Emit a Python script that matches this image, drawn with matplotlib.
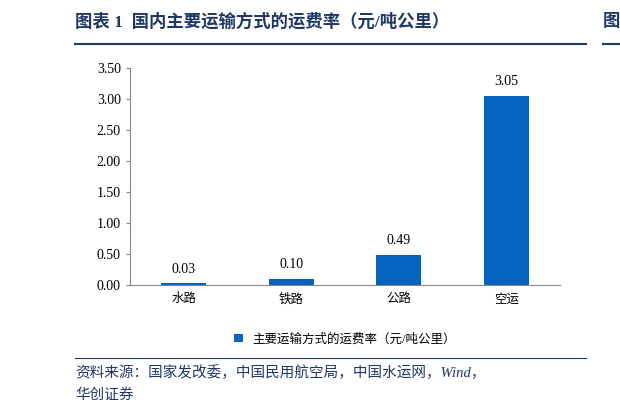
import matplotlib
matplotlib.use("Agg")
import matplotlib.pyplot as plt
from matplotlib.lines import Line2D

plt.rcParams['font.family'] = ['Liberation Serif', 'Noto Sans CJK SC']

categories = ['水路', '铁路', '公路', '空运']
values = [0.03, 0.10, 0.49, 3.05]
yticks = [0.00, 0.50, 1.00, 1.50, 2.00, 2.50, 3.00, 3.50]
bar_color = '#0563C1'
title_color = '#1F3864'

fig = plt.figure(figsize=(6.2, 4.15), dpi=100)
ax = fig.add_axes([130 / 620, 1 - 285 / 415, 430 / 620, 217 / 415])

x = range(len(categories))
ax.bar(x, values, width=0.42, color=bar_color, label='主要运输方式的运费率（元/吨公里）')
for xi, v in zip(x, values):
    ax.text(xi, v + 0.12, f'{v:.2f}', ha='center', va='bottom', fontsize=10)

ax.set_xticks(list(x))
ax.set_xticklabels(categories, fontsize=9)
ax.set_yticks(yticks)
ax.set_yticklabels([f'{t:.2f}' for t in yticks], fontsize=10)
ax.set_ylim(0, 3.5)
ax.set_xlim(-0.5, 3.5)
for s in ['top', 'right']:
    ax.spines[s].set_visible(False)
ax.spines['left'].set_color('#888888')
ax.spines['bottom'].set_color('#888888')
ax.tick_params(axis='x', length=0, pad=6)
ax.tick_params(axis='y', length=3, color='#888888')

ax.legend(loc='upper center', bbox_to_anchor=(0.5, -0.17), frameon=False,
          fontsize=9, handlelength=0.7, handleheight=0.7)

# title and rules
fig.text(75 / 620, 1 - 22 / 415, '图表 1  国内主要运输方式的运费率（元/吨公里）',
         fontsize=12.5, fontweight='bold', color=title_color, va='center')
fig.add_artist(Line2D([75 / 620, 586 / 620], [1 - 44 / 415] * 2, color=title_color, lw=1.5))
fig.text(603 / 620, 1 - 22 / 415, '图', fontsize=12.5, fontweight='bold', color=title_color, va='center')
fig.add_artist(Line2D([603 / 620, 1.0], [1 - 44 / 415] * 2, color=title_color, lw=1.5))
fig.add_artist(Line2D([75 / 620, 586 / 620], [1 - 358 / 415] * 2, color=title_color, lw=0.8))

fig.text(75 / 620, 1 - 373 / 415, '资料来源：国家发改委，中国民用航空局，中国水运网，Wind，',
         fontsize=10.5, style='italic', color=title_color, va='center')
fig.text(75 / 620, 1 - 395 / 415, '华创证券', fontsize=10.5, style='italic', color=title_color, va='center')

fig.savefig('out.png', dpi=100)
